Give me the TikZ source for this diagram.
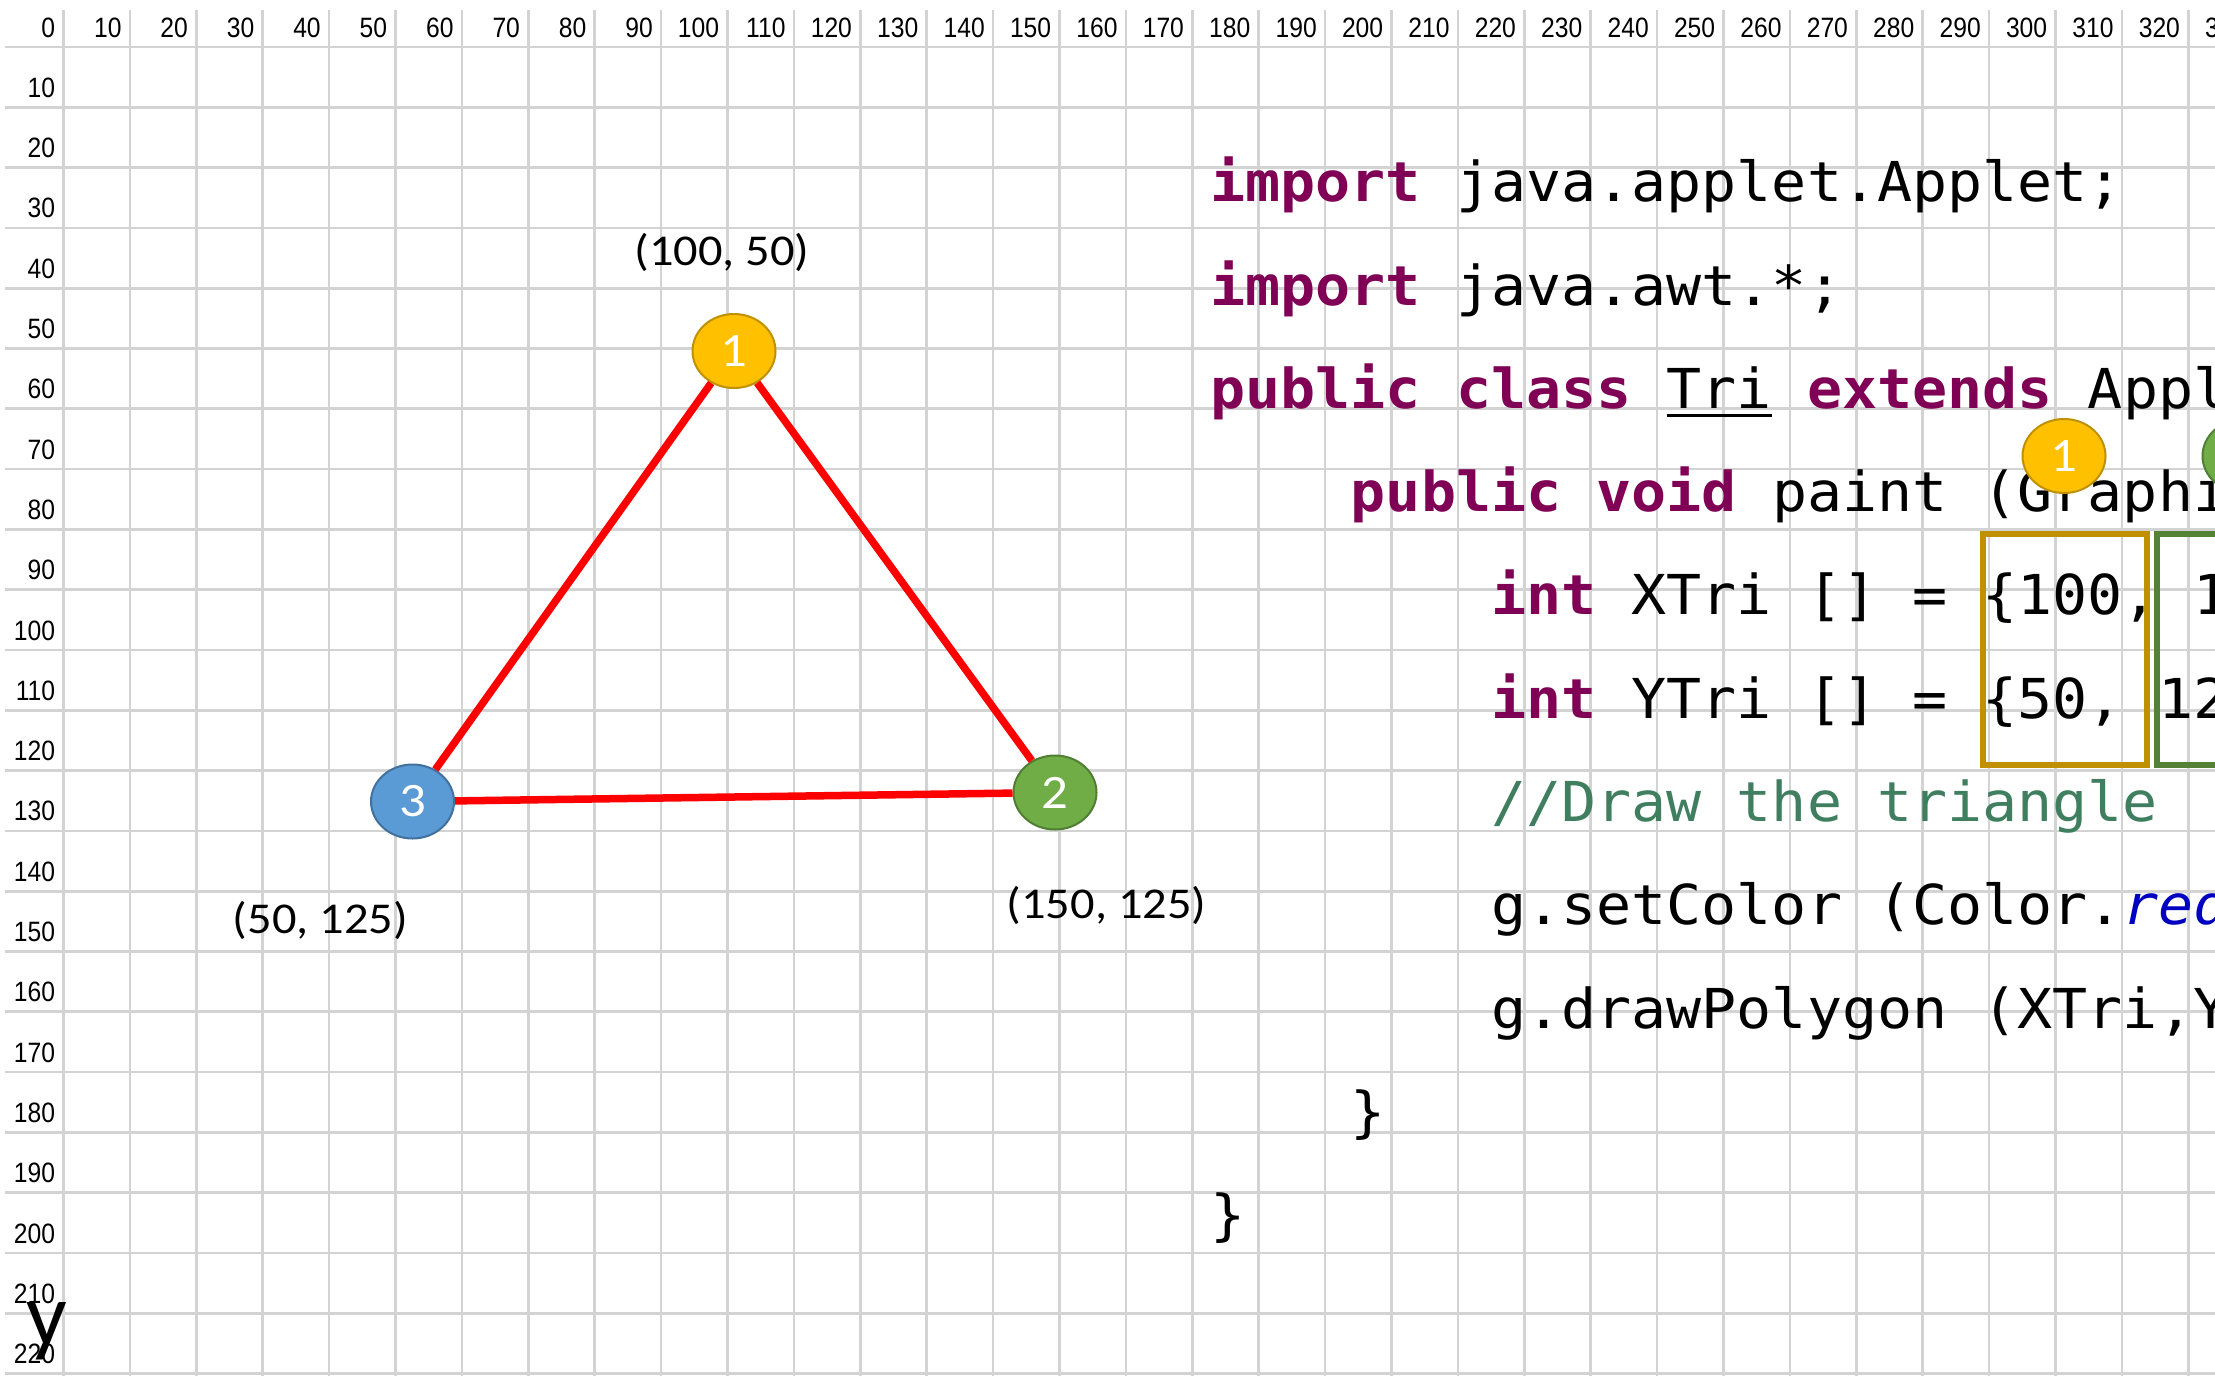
\documentclass[tikz,border=0pt]{standalone}
\usepackage{fontspec}
\setmainfont{Carlito}
\newfontfamily\labelfont{Carlito}[FakeStretch=1.1]
\newfontfamily\rulerfont{Liberation Sans}[FakeStretch=0.88]
\newfontfamily\codefont{DejaVu Sans Mono}[WordSpace={1,0,0}, FakeStretch=1.06]
\usetikzlibrary{shapes.geometric}

\definecolor{gridgrey}{RGB}{211,211,211}
\definecolor{keyword}{RGB}{127,0,85}
\definecolor{comment}{RGB}{63,127,95}
\definecolor{field}{RGB}{0,0,192}
\definecolor{goldfill}{RGB}{255,192,0}
\definecolor{golddraw}{RGB}{191,144,0}
\definecolor{greenfill}{RGB}{112,173,71}
\definecolor{greendraw}{RGB}{80,126,50}
\definecolor{bluefill}{RGB}{91,155,213}
\definecolor{bluedraw}{RGB}{65,113,156}
\definecolor{greenbox}{RGB}{84,130,53}

% java highlighting
\newcommand\kw[1]{{\bfseries\color{keyword}#1}}
\newcommand\cmt[1]{{\color{comment}#1}}
\newcommand\fld[1]{{\itshape\color{field}#1}}
\newcommand\uln[1]{\setbox0=\hbox{#1}\rlap{\rule[-4.3pt]{\wd0}{1.7pt}}\box0\relax}

\begin{document}
\begin{tikzpicture}[x=0.5pt, y=-0.5pt]
  \tikzstyle{every node}=[inner sep=0pt]
  \tikzstyle{ruler}=[font=\rulerfont\fontsize{14pt}{16pt}\selectfont, anchor=base east]
  \tikzstyle{vertex}=[ellipse, minimum width=41.5pt, minimum height=37pt, line width=1pt,
    text=white, font=\labelfont\fontsize{24pt}{28pt}\selectfont]
  \tikzstyle{coordlabel}=[font=\labelfont\fontsize{22pt}{26pt}\selectfont, anchor=base]
  \tikzstyle{codeline}=[font=\codefont\fontsize{27.5pt}{33pt}\selectfont, anchor=base west]
  \tikzstyle{triside}=[line width=3.75pt, color=red]
  \tikzstyle{tiebox}=[line width=3pt]

  \useasboundingbox (0, 0) rectangle (2215, 1376);
  \clip (0, 0) rectangle (2215, 1376);
  \fill[white] (0, 0) rectangle (2215, 1376);

  % grid, 10 units a cell
  \foreach \k in {0,...,32}
    \draw[gridgrey, line width=1.35pt] (63.5+66.4*\k, 10) -- (63.5+66.4*\k, 1376);
  \foreach \j in {0,...,22}
    \draw[gridgrey, line width=1.35pt] (5, 47+60.3*\j) -- (2215, 47+60.3*\j);
  \foreach \k in {0,...,33} {
    \pgfmathtruncatemacro\lbl{10*\k}
    \draw (55.5+66.4*\k, 37) node[ruler] {\lbl};
  }
  \foreach \j in {1,...,22} {
    \pgfmathtruncatemacro\lbl{10*\j}
    \draw (55.5, 37+60.3*\j) node[ruler] {\lbl};
  }
  \draw (26, 1345) node[anchor=base west, font=\fontsize{45pt}{50pt}\selectfont] (yaxis) {y};

  % the triangle
  \draw (734, 351) node[vertex, fill=goldfill, draw=golddraw] (v1) {1};
  \draw (1055, 792.5) node[vertex, fill=greenfill, draw=greendraw] (v2) {2};
  \draw (412.5, 801.5) node[vertex, fill=bluefill, draw=bluedraw] (v3) {3};
  \draw (v1) -- (v2) [triside];
  \draw (v2) -- (v3) [triside];
  \draw (v3) -- (v1) [triside];
  \draw (722, 265) node[coordlabel] (p1) {(100, 50)};
  \draw (1106.5, 918) node[coordlabel] (p2) {(150, 125)};
  \draw (320.5, 933) node[coordlabel] (p3) {(50, 125)};

  % the applet source
  \draw (1210, 201.7) node[codeline] (imp1) {\kw{import} java.applet.Applet;};
  \draw (1210, 305) node[codeline] (imp2) {\kw{import} java.awt.*;};
  \draw (1210, 408.3) node[codeline] (cls) {\kw{public} \kw{class} \uln{Tri} \kw{extends} Appl};
  \draw (1350.4, 511.6) node[codeline] (paint) {\kw{public} \kw{void} paint (Graphi};
  \draw (1490.8, 614.9) node[codeline] (xtri) {\kw{int} XTri [] = \{100, 1};
  \draw (1490.8, 718.2) node[codeline] (ytri) {\kw{int} YTri [] = \{50, 12};
  \draw (1490.8, 821.5) node[codeline] (note) {\cmt{//Draw the triangle}};
  \draw (1490.8, 924.8) node[codeline] (setc) {g.setColor (Color.\fld{red}};
  \draw (1490.8, 1028.1) node[codeline] (poly) {g.drawPolygon (XTri,Y};
  \draw (1350.4, 1131.4) node[codeline] (close1) {\}};
  \draw (1210, 1234.7) node[codeline] (close2) {\}};

  % first and second point in the arrays
  \draw[golddraw, tiebox] (1982.7, 534) rectangle (2146.7, 765);
  \draw[greenbox, tiebox] (2156.7, 534) rectangle (2400, 765);
  \draw (2064, 456) node[vertex, fill=goldfill, draw=golddraw] (c1) {1};
  \draw (2244, 456) node[vertex, fill=greenfill, draw=greendraw] (c2) {};
\end{tikzpicture}
\end{document}
